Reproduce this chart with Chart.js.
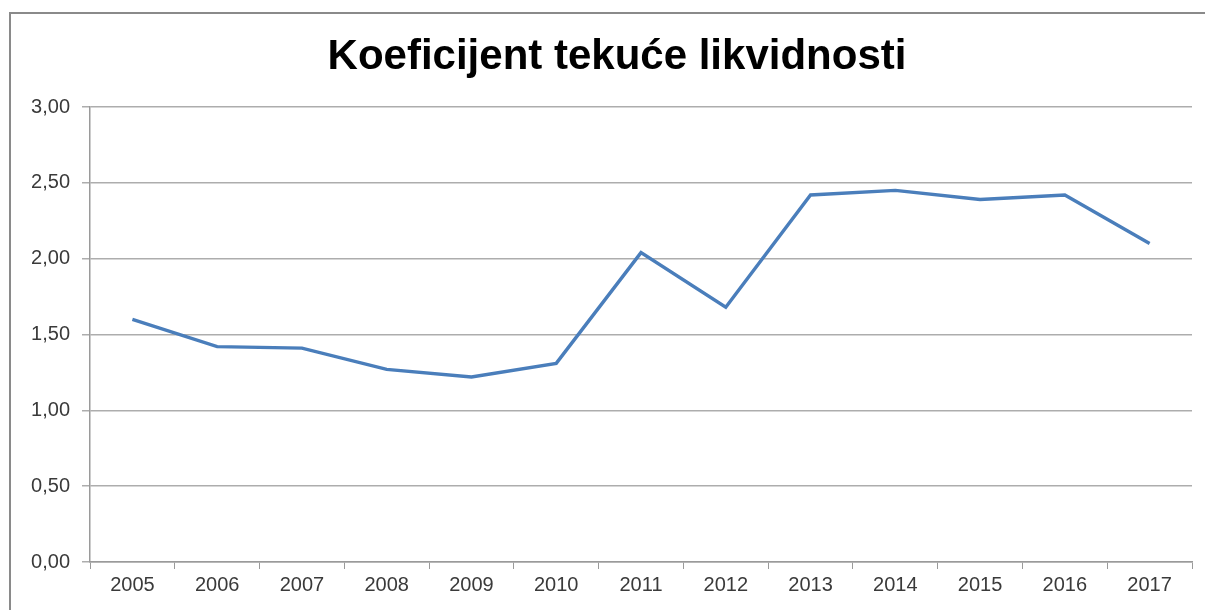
<!DOCTYPE html>
<html>
<head>
<meta charset="utf-8">
<script src="https://cdn.jsdelivr.net/npm/chart.js@4/dist/chart.umd.min.js"></script>
<style>
  html, body { margin: 0; padding: 0; background: #ffffff; overflow: hidden; }
  #wrap { position: relative; width: 1205px; height: 610px; }
  #frame { position: absolute; left: 9px; top: 12px; width: 1220px; height: 640px;
           border: 2px solid #8a8a8a; box-sizing: border-box; pointer-events: none; }
  canvas { position: absolute; left: 0; top: 0; }
</style>
</head>
<body>
<div id="wrap">
  <canvas id="c" width="1205" height="610"></canvas>
  <div id="frame"></div>
</div>
<script>
const titleText = 'Koeficijent tekuće likvidnosti';
const years = ['2005','2006','2007','2008','2009','2010','2011','2012','2013','2014','2015','2016','2017'];
const ratio = [1.60, 1.42, 1.41, 1.27, 1.22, 1.31, 2.04, 1.68, 2.42, 2.45, 2.39, 2.42, 2.10];
const yTicks = [0, 0.5, 1, 1.5, 2, 2.5, 3];

const FONT = '"Liberation Sans", Arial, sans-serif';

// Shift the title block so that it is centred where the reference title sits
const titleShift = {
  id: 'titleShift',
  afterLayout(chart) {
    if (chart.titleBlock) {
      chart.titleBlock.left = 42;
      chart.titleBlock.right = chart.chartArea.right;
    }
  }
};

new Chart(document.getElementById('c'), {
  type: 'line',
  data: {
    labels: years,
    datasets: [{
      label: titleText,
      data: ratio,
      borderColor: '#4a7ebb',
      borderWidth: 3.4,
      pointRadius: 0,
      tension: 0,
      fill: false
    }]
  },
  plugins: [titleShift],
  options: {
    responsive: false,
    animation: false,
    layout: { padding: { left: 10, right: 13, top: 0, bottom: 0 } },
    plugins: {
      legend: { display: false },
      tooltip: { enabled: false },
      title: {
        display: true,
        text: titleText,
        color: '#000000',
        font: { family: FONT, size: 42, weight: 'bold', lineHeight: 1.2 },
        padding: { top: 32, bottom: 24.6 }
      }
    },
    scales: {
      x: {
        type: 'category',
        offset: true,
        afterFit: s => { s.height = 48; },
        grid: {
          display: true,
          offset: true,
          drawOnChartArea: false,
          drawTicks: true,
          tickLength: 7,
          color: '#9a9a9a',
          lineWidth: 1
        },
        border: { display: true, color: '#9a9a9a', width: 1.5 },
        ticks: {
          color: '#3a3a3a',
          font: { family: FONT, size: 20 },
          padding: 4,
          maxRotation: 0,
          autoSkip: false
        }
      },
      y: {
        min: 0,
        max: 3,
        afterFit: s => { s.width = 80; },
        afterBuildTicks: s => { s.ticks = yTicks.map(v => ({ value: v })); },
        grid: {
          color: '#adadad',
          lineWidth: 1.5,
          tickLength: 8,
          drawTicks: true
        },
        border: { display: true, color: '#9a9a9a', width: 1.5 },
        ticks: {
          color: '#3a3a3a',
          font: { family: FONT, size: 20 },
          padding: 12,
          callback: v => Number(v).toFixed(2).replace('.', ',')
        }
      }
    }
  }
});
</script>
</body>
</html>
